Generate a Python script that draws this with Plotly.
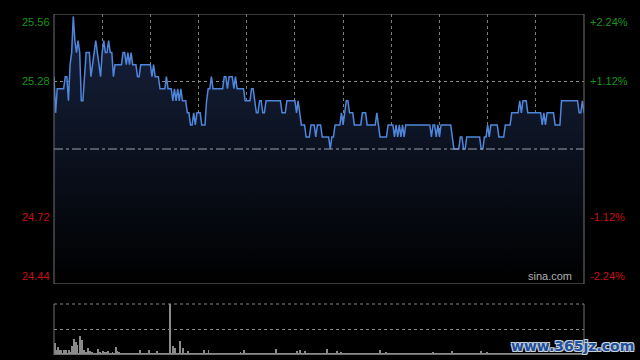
import plotly.graph_objects as go

# ---- data (per-minute, HK session 09:30-12:00, 13:00-16:00) ----
prev_close = 25.00
price_ticks = [25.56, 25.28, 24.72, 24.44]
price_labels = ["25.56", "25.28", "24.72", "24.44"]
pct_labels = ["+2.24%", "+1.12%", "-1.12%", "-2.24%"]
time_grid = [30, 60, 90, 120, 150, 180, 210, 240, 270, 300]

prices = [
    25.30, 25.15, 25.25, 25.25, 25.25, 25.25, 25.25, 25.30, 25.30, 25.20,
    25.35, 25.40, 25.55, 25.45, 25.40, 25.45, 25.40, 25.20, 25.20, 25.30,
    25.40, 25.40, 25.40, 25.30, 25.35, 25.40, 25.45, 25.40, 25.35, 25.30,
    25.40, 25.45, 25.40, 25.40, 25.45, 25.40, 25.40, 25.30, 25.35, 25.35,
    25.35, 25.35, 25.35, 25.40, 25.40, 25.35, 25.40, 25.35, 25.40, 25.35,
    25.35, 25.35, 25.30, 25.30, 25.35, 25.35, 25.35, 25.35, 25.35, 25.35,
    25.35, 25.30, 25.35, 25.30, 25.30, 25.30, 25.25, 25.25, 25.25, 25.25,
    25.30, 25.25, 25.25, 25.25, 25.20, 25.25, 25.20, 25.25, 25.20, 25.25,
    25.20, 25.20, 25.20, 25.15, 25.15, 25.10, 25.10, 25.15, 25.10, 25.15,
    25.15, 25.15, 25.10, 25.10, 25.10, 25.20, 25.25, 25.25, 25.30, 25.25,
    25.25, 25.25, 25.25, 25.25, 25.25, 25.25, 25.30, 25.30, 25.25, 25.30,
    25.30, 25.30, 25.25, 25.30, 25.25, 25.25, 25.25, 25.25, 25.25, 25.20,
    25.20, 25.20, 25.20, 25.25, 25.25, 25.20, 25.15, 25.15, 25.20, 25.20,
    25.15, 25.15, 25.20, 25.20, 25.20, 25.20, 25.20, 25.20, 25.20, 25.20,
    25.20, 25.20, 25.15, 25.15, 25.15, 25.20, 25.20, 25.20, 25.20, 25.20,
    25.20, 25.15, 25.20, 25.15, 25.10, 25.10, 25.10, 25.05, 25.05, 25.05,
    25.10, 25.10, 25.10, 25.05, 25.10, 25.10, 25.10, 25.05, 25.05, 25.05,
    25.05, 25.05, 25.00, 25.05, 25.05, 25.10, 25.10, 25.10, 25.10, 25.15,
    25.10, 25.15, 25.20, 25.20, 25.15, 25.15, 25.15, 25.10, 25.10, 25.10,
    25.10, 25.10, 25.15, 25.15, 25.15, 25.10, 25.10, 25.10, 25.10, 25.10,
    25.10, 25.15, 25.10, 25.05, 25.05, 25.05, 25.05, 25.05, 25.10, 25.10,
    25.10, 25.10, 25.05, 25.10, 25.05, 25.10, 25.05, 25.10, 25.05, 25.10,
    25.10, 25.10, 25.10, 25.10, 25.10, 25.10, 25.10, 25.10, 25.10, 25.10,
    25.10, 25.10, 25.10, 25.10, 25.10, 25.05, 25.10, 25.10, 25.05, 25.10,
    25.05, 25.10, 25.10, 25.10, 25.10, 25.10, 25.10, 25.10, 25.05, 25.00,
    25.00, 25.00, 25.00, 25.05, 25.05, 25.00, 25.00, 25.05, 25.05, 25.05,
    25.05, 25.05, 25.05, 25.05, 25.05, 25.05, 25.00, 25.00, 25.05, 25.05,
    25.10, 25.05, 25.10, 25.10, 25.10, 25.10, 25.10, 25.05, 25.05, 25.05,
    25.05, 25.10, 25.10, 25.10, 25.10, 25.15, 25.15, 25.15, 25.15, 25.15,
    25.20, 25.15, 25.20, 25.20, 25.20, 25.15, 25.15, 25.15, 25.15, 25.15,
    25.15, 25.15, 25.15, 25.15, 25.10, 25.15, 25.10, 25.15, 25.15, 25.15,
    25.15, 25.15, 25.10, 25.10, 25.10, 25.10, 25.20, 25.20, 25.20, 25.20,
    25.20, 25.20, 25.20, 25.20, 25.20, 25.20, 25.20, 25.15, 25.15, 25.20,
    25.15,
]

volumes = [
    23, 10, 15, 9, 9, 3, 9, 9, 3, 9,
    6, 17, 31, 25, 20, 4, 37, 29, 10, 5,
    6, 14, 7, 5, 3, 2, 2, 12, 5, 3,
    7, 5, 5, 7, 3, 2, 5, 2, 15, 7,
    5, 2, 3, 2, 2, 3, 2, 2, 3, 2,
    2, 3, 2, 10, 2, 2, 3, 2, 2, 9,
    2, 2, 3, 2, 7, 2, 2, 3, 2, 2,
    2, 2, 100, 2, 17, 13, 2, 2, 27, 2,
    13, 2, 2, 7, 2, 3, 2, 2, 3, 2,
    2, 3, 2, 9, 2, 2, 10, 2, 2, 3,
    2, 2, 3, 2, 2, 2, 3, 2, 2, 2,
    2, 3, 2, 2, 2, 2, 5, 2, 9, 2,
    2, 2, 3, 2, 2, 2, 2, 3, 2, 2,
    2, 2, 3, 2, 2, 2, 2, 2, 11, 2,
    2, 2, 3, 2, 2, 2, 2, 3, 2, 2,
    2, 7, 2, 10, 2, 2, 7, 2, 2, 2,
    2, 2, 3, 2, 2, 2, 2, 2, 3, 2,
    12, 2, 2, 2, 2, 3, 7, 2, 2, 5,
    2, 2, 3, 2, 2, 2, 2, 2, 3, 2,
    2, 2, 2, 3, 2, 2, 2, 2, 2, 3,
    2, 2, 2, 9, 2, 2, 2, 5, 2, 2,
    2, 3, 2, 2, 2, 2, 3, 2, 2, 2,
    2, 2, 3, 2, 2, 2, 2, 2, 3, 2,
    2, 2, 2, 3, 2, 2, 5, 2, 2, 2,
    3, 2, 2, 2, 2, 2, 3, 2, 7, 2,
    2, 2, 3, 2, 2, 2, 2, 3, 2, 2,
    2, 2, 2, 3, 2, 2, 7, 2, 2, 2,
    5, 2, 2, 3, 2, 2, 2, 2, 3, 2,
    2, 2, 3, 2, 2, 2, 2, 3, 2, 2,
    2, 3, 2, 2, 2, 2, 3, 2, 2, 2,
    2, 2, 3, 2, 2, 2, 2, 3, 2, 2,
    3, 2, 2, 2, 3, 2, 2, 2, 3, 2,
    2, 3, 2, 2, 3, 2, 2, 3, 2, 2,
    3,
]

minutes = list(range(len(prices)))
y_lo, y_hi = price_ticks[-1], price_ticks[0]
n_last = len(prices) - 1
v_max = max(volumes)

GREEN = "#1a931a"
RED = "#c81010"
FONT = "Arial, Liberation Sans, sans-serif"

fig = go.Figure()

# baseline for the gradient fill
fig.add_trace(go.Scatter(x=[0, n_last], y=[y_lo, y_lo], mode="lines",
                         line=dict(width=0), hoverinfo="skip", showlegend=False))
fig.add_trace(go.Scatter(
    x=minutes, y=prices, mode="lines",
    line=dict(color="#4f86dc", width=1.5),
    fill="tonexty",
    fillgradient=dict(type="vertical",
                      colorscale=[[0, "#000000"], [1, "#17233f"]],
                      start=y_lo, stop=y_hi),
    showlegend=False, hoverinfo="skip"))

fig.add_trace(go.Bar(x=minutes, y=volumes, xaxis="x2", yaxis="y2",
                     marker=dict(color="#8a8a8a", line=dict(width=0)),
                     width=0.55, showlegend=False, hoverinfo="skip"))

X0, X1 = 54 / 640, 584 / 640
VB, VT = 1 - 355 / 360, 1 - 304 / 360
fig.update_layout(
    width=640, height=360,
    margin=dict(l=0, r=0, t=0, b=0),
    paper_bgcolor="#000000", plot_bgcolor="rgba(0,0,0,0)",
    bargap=0,
    xaxis=dict(domain=[X0, X1], range=[0, n_last], tickvals=time_grid,
               showticklabels=False, ticks="", showgrid=True,
               gridcolor="#7a7a7a", griddash="dot", gridwidth=1,
               zeroline=False, showline=False),
    yaxis=dict(domain=[1 - 284 / 360, 1 - 14 / 360], range=[y_lo, y_hi],
               tickvals=[price_ticks[1], price_ticks[2]], showticklabels=False,
               ticks="", showgrid=True, gridcolor="#8a8a8a", griddash="dot",
               gridwidth=1, zeroline=False, showline=False),
    xaxis2=dict(domain=[X0, X1], range=[-0.5, n_last + 0.5], anchor="y2",
                showticklabels=False, ticks="", showgrid=False,
                zeroline=False, showline=False),
    yaxis2=dict(domain=[VB, VT], range=[0, v_max],
                anchor="x2", tickvals=[v_max / 2], showticklabels=False,
                ticks="", showgrid=True, gridcolor="#8a8a8a", griddash="dot",
                gridwidth=1, zeroline=False, showline=False),
)

# previous close dash-dot line
fig.add_shape(type="line", xref="x", yref="y", x0=0, x1=n_last,
              y0=prev_close, y1=prev_close,
              line=dict(color="#9aa0aa", width=1, dash="dashdot"))
# frames
fig.add_shape(type="rect", xref="paper", yref="y", x0=X0, x1=X1, y0=y_lo, y1=y_hi,
              line=dict(color="#6e6e6e", width=1))
fig.add_shape(type="line", xref="paper", yref="paper", x0=X0, x1=X0,
              y0=VB, y1=VT, line=dict(color="#6e6e6e", width=1))
fig.add_shape(type="line", xref="paper", yref="paper", x0=X1, x1=X1,
              y0=VB, y1=VT, line=dict(color="#6e6e6e", width=1))
fig.add_shape(type="line", xref="paper", yref="paper", x0=X0, x1=X1,
              y0=VT, y1=VT, line=dict(color="#8a8a8a", width=1, dash="dot"))
fig.add_shape(type="line", xref="paper", yref="y2", x0=X0, x1=X1,
              y0=0, y1=0, line=dict(color="#555555", width=1))

anchors = ["top", "middle", "middle", "bottom"]
colors = [GREEN, GREEN, RED, RED]
for v, lab, pl, anc, col in zip(price_ticks, price_labels, pct_labels, anchors, colors):
    fig.add_annotation(x=X0, xref="paper", y=v, yref="y", text=lab,
                       xanchor="right", yanchor=anc, xshift=-2, showarrow=False,
                       font=dict(family=FONT, size=11, color=col))
    fig.add_annotation(x=X1, xref="paper", y=v, yref="y", text=pl,
                       xanchor="left", yanchor=anc, xshift=4, showarrow=False,
                       font=dict(family=FONT, size=11, color=col))

fig.add_annotation(x=574 / 640, xref="paper", y=y_lo, yref="y", text="sina.com",
                   xanchor="right", yanchor="bottom", showarrow=False,
                   font=dict(family=FONT, size=11, color="#b0b0b0"))
fig.add_annotation(x=636 / 640, xref="paper", y=4 / 360, yref="paper",
                   text="www.365jz.com", xanchor="right", yanchor="bottom",
                   showarrow=False,
                   font=dict(family="DejaVu Sans, sans-serif", size=14,
                             color="#1d4f9a", weight="bold",
                             shadow="-1px -1px 0 #c8d0dc, 1px -1px 0 #c8d0dc, -1px 1px 0 #c8d0dc, 1px 1px 0 #c8d0dc"))

fig.write_html("out.html", config={"displayModeBar": False},
               post_script="document.body.style.margin='0';")
